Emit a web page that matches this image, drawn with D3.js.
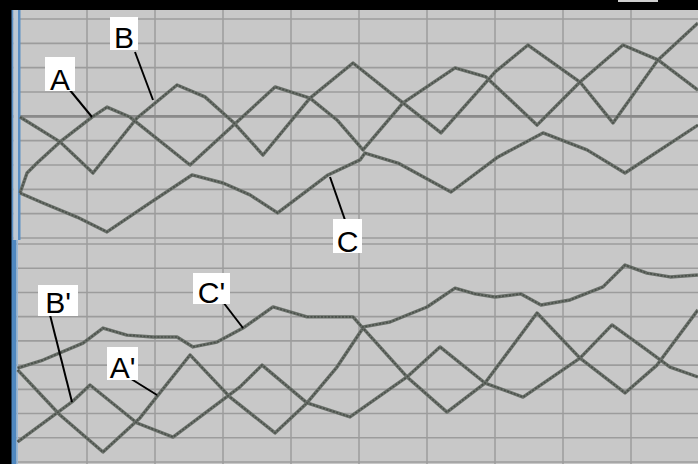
<!DOCTYPE html>
<html><head><meta charset="utf-8">
<script src="https://cdn.jsdelivr.net/npm/d3@7"></script>
<style>html,body{margin:0;padding:0;background:#000;}svg{display:block;}</style>
</head><body>
<script>
// ---------- DATA (x: time in 1/10 division, y: divisions) ----------
const gridX = [10,20,30,40,50,60,70,80,90];
const gridY = [0,1,2,3,4,5,6,7,8,9];

// upper trace panel
const aX = [0.15,1.18,2.65,6.03,10.74,12.94,16.32,25.15,33.97,37.65,42.79,46.76,50.59,56.47,64.12,68.68,76.18,82.5,88.82,93.97,99.85];
const aY = [1.85,2.67,3.08,3.95,4.97,5.38,4.97,3.00,5.26,6.21,5.75,4.85,3.62,5.55,6.99,6.62,4.64,6.41,7.93,7.32,6.08];
const bX = [0.15,6.03,10.88,17.35,23.24,27.35,31.47,35.88,42.79,49.12,56.47,62.06,70.0,74.85,82.5,87.35,93.97,99.85];
const bY = [4.97,3.95,2.67,4.93,6.29,5.80,4.77,3.41,5.75,7.19,5.55,4.32,6.82,7.93,6.41,4.73,7.32,8.84];
const cX = [0.15,3.53,8.53,12.94,19.26,25.44,30.0,33.97,38.03,45.44,50.15,50.88,55.74,63.53,70.44,77.06,83.53,89.12,99.85];
const cY = [1.85,1.44,0.86,0.25,1.44,2.59,2.26,1.77,1.03,2.59,3.21,3.49,3.08,1.89,3.33,4.32,3.62,2.67,4.64];

// lower trace panel
const a2X = [-0.2,6.03,12.35,17.79,25.15,31.03,37.65,42.35,46.76,50.59,57.06,62.94,68.53,76.18,82.5,89.12,93.82,99.85];
const a2Y = [3.80,1.94,0.41,1.82,4.42,2.68,1.20,2.44,3.92,5.53,3.51,2.06,3.26,6.15,4.29,2.85,4.00,6.28];
const b2X = [-0.2,7.79,10.44,17.35,22.65,32.5,35.74,42.35,48.68,57.06,61.91,68.53,74.12,82.5,87.21,92.35,95.74,99.85];
const b2Y = [0.83,2.48,3.18,1.61,1.03,3.10,4.00,2.44,1.86,3.51,4.75,3.26,2.68,4.29,5.66,4.62,3.92,3.51];
const c2X = [-0.2,3.53,9.41,12.35,15.88,19.71,23.24,25.59,29.12,32.94,37.35,42.35,49.12,50.44,54.56,60.0,64.12,67.06,70.0,73.82,76.76,81.03,85.88,89.12,92.35,95.74,99.85];
const c2Y = [3.88,4.21,4.91,5.53,5.24,5.16,5.16,4.75,4.95,5.53,6.40,5.99,5.99,5.57,5.78,6.40,7.18,6.94,6.81,6.94,6.48,6.69,7.23,8.13,7.80,7.64,7.72];

const labels = ["A","B","C","B'","A'","C'"];

// ---------- LAYOUT ----------
const W = 698, H = 464;
const svg = d3.select("body").append("svg").attr("width", W).attr("height", H);
svg.append("rect").attr("width", W).attr("height", H).attr("fill", "#000");
svg.append("rect").attr("x", 618).attr("y", 0).attr("width", 40).attr("height", 2).attr("fill", "#cfcfcf");

const x = d3.scaleLinear().domain([0, 100]).range([19, 699]);
const yTop = d3.scaleLinear().domain([0, 9]).range([238, 19]);
const yBot = d3.scaleLinear().domain([0, 9]).range([462, 244]);

// panel background
svg.append("rect").attr("x", 12).attr("y", 10).attr("width", W - 12).attr("height", H - 10).attr("fill", "#c8c8c8");

const gridColor = "#9c9c9c";
function drawGrid(y, y0, y1) {
  const g = svg.append("g");
  g.selectAll("line.v").data(gridX).join("line")
    .attr("x1", d => x(d)).attr("x2", d => x(d)).attr("y1", y0).attr("y2", y1)
    .attr("stroke", gridColor).attr("stroke-width", 1.5);
  g.selectAll("line.h").data(gridY).join("line")
    .attr("x1", 12).attr("x2", W).attr("y1", d => y(d)).attr("y2", d => y(d))
    .attr("stroke", gridColor).attr("stroke-width", 1.6);
}
drawGrid(yTop, 10, 240);
drawGrid(yBot, 240, H);
// thick centre line of upper panel
svg.append("line").attr("x1", 12).attr("x2", W).attr("y1", yTop(5)).attr("y2", yTop(5))
  .attr("stroke", "#8a8a8a").attr("stroke-width", 2.6);

// blue left borders
svg.append("rect").attr("x", 11.5).attr("y", 10).attr("width", 2).attr("height", 230).attr("fill", "#5a8fc4");
svg.append("rect").attr("x", 18).attr("y", 10).attr("width", 2.5).attr("height", 230).attr("fill", "#5a8fc4");
svg.append("rect").attr("x", 13.5).attr("y", 10).attr("width", 4.5).attr("height", 230).attr("fill", "#bcc8d4");
svg.append("rect").attr("x", 11.5).attr("y", 240).attr("width", 5).attr("height", 224).attr("fill", "#4f88c0");
svg.append("rect").attr("x", 16.5).attr("y", 240).attr("width", 1.5).attr("height", 224).attr("fill", "#9bb8d4");

// traces
function trace(xs, ys, y) {
  const pts = xs.map((d, i) => [x(d), y(ys[i])]);
  const line = d3.line();
  svg.append("path").attr("d", line(pts)).attr("fill", "none")
    .attr("stroke", "#6a706a").attr("stroke-width", 3.4).attr("stroke-linejoin", "round");
  svg.append("path").attr("d", line(pts)).attr("fill", "none")
    .attr("stroke", "#4a504a").attr("stroke-width", 1.6).attr("stroke-dasharray", "2,1.5");
}
trace(aX, aY, yTop);
trace(bX, bY, yTop);
trace(cX, cY, yTop);
trace(a2X, a2Y, yBot);
trace(b2X, b2Y, yBot);
trace(c2X, c2Y, yBot);

// annotations: box [x0,y0,x1,y1], baseline, leader [x1,y1,x2,y2]
const ann = [
  {box:[45,57,75,91], base:90, lead:[69,89,92,117]},
  {box:[110,17,138,50], base:48, lead:[135,52,153,100]},
  {box:[333,219,362,253], base:252, lead:[345,220,330,177]},
  {box:[38,285,78,316], base:313, lead:[50,315,72,402]},
  {box:[107,347,138,380], base:378, lead:[128,377,157,395]},
  {box:[193,273,230,304], base:303, lead:[223,302,243,328]}
];
ann.forEach((a, i) => {
  svg.append("line").attr("x1", a.lead[0]).attr("y1", a.lead[1]).attr("x2", a.lead[2]).attr("y2", a.lead[3])
    .attr("stroke", "#000").attr("stroke-width", 2);
  svg.append("rect").attr("x", a.box[0]).attr("y", a.box[1])
    .attr("width", a.box[2] - a.box[0]).attr("height", a.box[3] - a.box[1]).attr("fill", "#fff");
  svg.append("text").attr("x", (a.box[0] + a.box[2]) / 2).attr("y", a.base)
    .attr("text-anchor", "middle").attr("font-family", "'Liberation Sans', Arial, sans-serif")
    .attr("font-size", 30).attr("fill", "#000").text(labels[i]);
});
</script>
</body></html>
